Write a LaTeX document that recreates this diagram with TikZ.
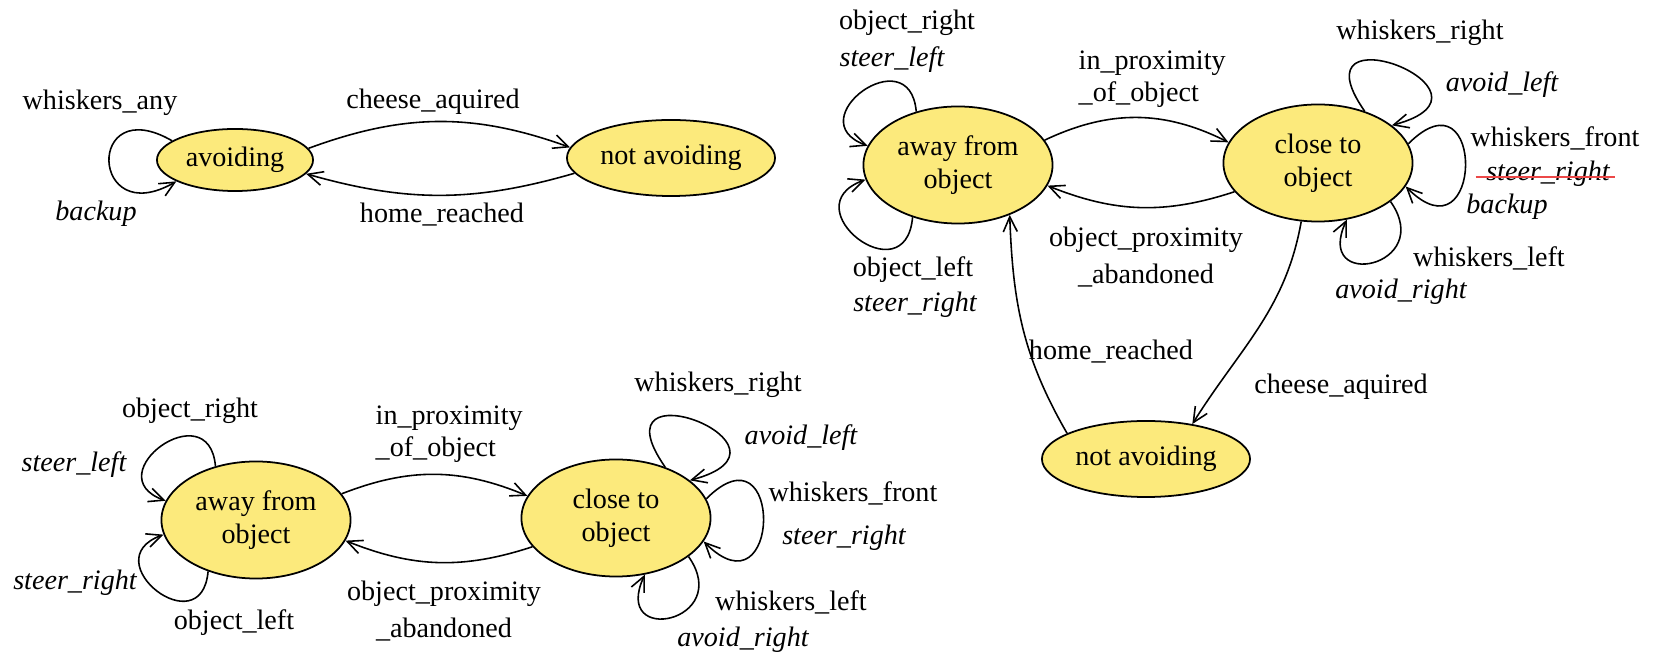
\documentclass[tikz,border=0pt]{standalone}
\usepackage{fontspec}
\setmainfont{Liberation Serif}
\usetikzlibrary{arrows.meta,shapes.geometric}

\definecolor{statefill}{RGB}{252,234,124}
\definecolor{strikered}{RGB}{236,72,72}

\begin{document}
\begin{tikzpicture}[
    x=0.01cm, y=-0.01cm,
    state/.style={draw, ellipse, fill=statefill, line width=0.5pt, inner sep=0pt, align=center,
        font=\fontsize{8}{9.4}\selectfont, minimum width=1.89cm, minimum height=1.17cm},
    wide/.style={state, minimum width=2.08cm, minimum height=0.76cm},
    tr/.style={-{Straight Barb[length=1.5mm,width=1.4mm]}, line width=0.45pt},
    lbl/.style={inner sep=0pt, font=\fontsize{8}{9.2}\selectfont},
    act/.style={lbl, font=\fontsize{8}{9.2}\selectfont\itshape}
]
\useasboundingbox (0,0) rectangle (1656,655);

% top left: two states
\node[state, minimum width=1.56cm, minimum height=0.62cm] (avoidA) at (235,160) {avoiding};
\node[wide] (calmA) at (671,158) {not avoiding};

\node[lbl] (whiskA) at (100,103) {whiskers\_any};
\node[act] (backupA) at (96,214) {backup};
\node[lbl] (cheeseA) at (433,102) {cheese\_aquired};
\node[lbl] (homeA) at (442,215) {home\_reached};

\draw[tr] (avoidA.9) to[bend left=20] (calmA.174);
\draw[tr] (calmA.189) to[bend left=16] (avoidA.349);
\draw[tr] (avoidA.163) .. controls +(150:10mm) and +(210:10mm) .. (avoidA.200);

% bottom left: away / close
\node[state] (awayB) at (256,520) {away from\\object};
\node[state] (closeB) at (616,518) {close to\\object};

\node[lbl] (objrB) at (190,411) {object\_right};
\node[act] (steerlB) at (74,465) {steer\_left};
\node[act] (steerrB) at (75,583) {steer\_right};
\node[lbl] (objlB) at (234,623) {object\_left};
\node[lbl, anchor=west, align=left] (inproxB) at (375,434) {in\_proximity\\\_of\_object};
\node[lbl, align=center] (outproxB) at (444,611) {object\_proximity\\[1.3pt]\_abandoned};
\node[lbl] (whrB) at (718,385) {whiskers\_right};
\node[act] (alB) at (801,438) {avoid\_left};
\node[lbl] (wfB) at (853,493) {whiskers\_front};
\node[act] (srB) at (844,538) {steer\_right};
\node[lbl] (wlB) at (791,602) {whiskers\_left};
\node[act] (arB) at (743,640) {avoid\_right};

\draw[tr] (awayB.17) to[bend left=22] (closeB.166);
\draw[tr] (closeB.199) to[bend left=20] (awayB.347);
\draw[tr] (awayB.127) .. controls +(95:7.5mm) and +(160:7.5mm) .. (awayB.168);
\draw[tr] (awayB.227) .. controls +(265:7.5mm) and +(200:7.5mm) .. (awayB.189);
\draw[tr] (closeB.46) .. controls +(125:13mm) and +(15:13mm) .. (closeB.27);
\draw[tr] (closeB.12) .. controls +(45:11mm) and +(315:11mm) .. (closeB.345);
\draw[tr] (closeB.332) .. controls +(305:8mm) and +(245:8mm) .. (closeB.297);

% right: three states
\node[state] (awayC) at (958,165) {away from\\object};
\node[state] (closeC) at (1318,163) {close to\\object};
\node[wide] (calmC) at (1146,459) {not avoiding};

\node[lbl] (objrC) at (907,23) {object\_right};
\node[act] (steerlC) at (892,60) {steer\_left};
\node[lbl] (objlC) at (913,270) {object\_left};
\node[act] (steerrC) at (915,305) {steer\_right};
\node[lbl, anchor=west, align=left] (inproxC) at (1078,79) {in\_proximity\\\_of\_object};
\node[lbl, align=center] (outproxC) at (1146,257) {object\_proximity\\[1.3pt]\_abandoned};
\node[lbl] (whrC) at (1420,33) {whiskers\_right};
\node[act] (alC) at (1502,85) {avoid\_left};
\node[lbl] (wfC) at (1555,138) {whiskers\_front};
\node[act] (srC) at (1548,174) {steer\_right};
\node[act] (bkC) at (1507,207) {backup};
\node[lbl] (wlC) at (1489,258) {whiskers\_left};
\node[act] (arC) at (1401,292) {avoid\_right};
\node[lbl] (homeC) at (1111,352) {home\_reached};
\node[lbl] (cheeseC) at (1341,387) {cheese\_aquired};

% crossed out action
\draw[strikered, line width=0.6pt] ([xshift=-1mm,yshift=-0.3mm]srC.west) -- ([xshift=0.5mm,yshift=-0.3mm]srC.east);

\draw[tr] (awayC.16) to[bend left=26] (closeC.167);
\draw[tr] (closeC.199) to[bend left=20] (awayC.347);
\draw[tr] (calmC.162) to[out=120, in=272] (awayC.316);
\draw[tr] (closeC.254) to[out=260, in=58] (calmC.37);
\draw[tr] (awayC.128) .. controls +(95:7.5mm) and +(160:7.5mm) .. (awayC.168);
\draw[tr] (awayC.229) .. controls +(265:8mm) and +(200:8mm) .. (awayC.189);
\draw[tr] (closeC.48) .. controls +(125:13mm) and +(15:13mm) .. (closeC.27);
\draw[tr] (closeC.12) .. controls +(45:11mm) and +(315:11mm) .. (closeC.345);
\draw[tr] (closeC.332) .. controls +(305:8mm) and +(245:8mm) .. (closeC.297);
\end{tikzpicture}
\end{document}
